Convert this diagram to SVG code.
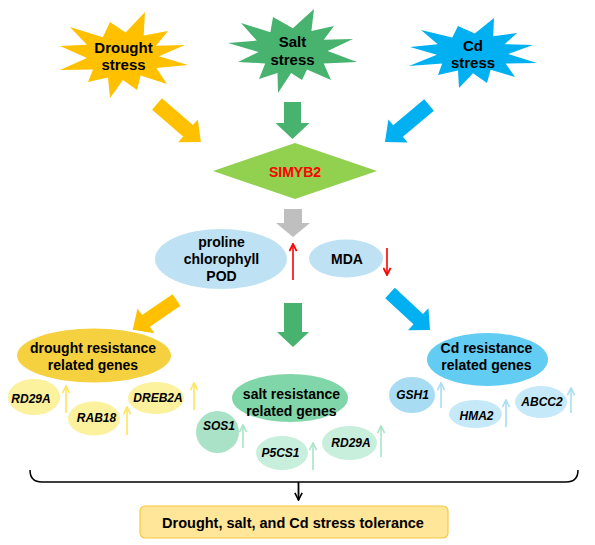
<svg xmlns="http://www.w3.org/2000/svg" width="595" height="545" viewBox="0 0 595 545">
<defs>
<style>
text{font-family:"Liberation Sans",Arial,sans-serif;font-weight:bold;text-anchor:middle;fill:#000}
.t{font-size:14px}
.s{font-size:15px}
.g{font-size:12px;font-style:italic}
.thin{fill:none;stroke-width:1.6}
</style>
<marker id="mr" viewBox="0 0 10 10" refX="9" refY="5" markerWidth="9" markerHeight="9" markerUnits="userSpaceOnUse" orient="auto"><path d="M1,1 L9,5 L1,9" fill="none" stroke="#FF0000" stroke-width="2"/></marker>
<marker id="my" viewBox="0 0 10 10" refX="9" refY="5" markerWidth="9" markerHeight="9" markerUnits="userSpaceOnUse" orient="auto"><path d="M1,1 L9,5 L1,9" fill="none" stroke="#FFE45C" stroke-width="1.8"/></marker>
<marker id="mg" viewBox="0 0 10 10" refX="9" refY="5" markerWidth="9" markerHeight="9" markerUnits="userSpaceOnUse" orient="auto"><path d="M1,1 L9,5 L1,9" fill="none" stroke="#A8E4C6" stroke-width="1.8"/></marker>
<marker id="mb" viewBox="0 0 10 10" refX="9" refY="5" markerWidth="9" markerHeight="9" markerUnits="userSpaceOnUse" orient="auto"><path d="M1,1 L9,5 L1,9" fill="none" stroke="#A9DCF2" stroke-width="1.8"/></marker>
<marker id="mk" viewBox="0 0 10 10" refX="9" refY="5" markerWidth="9" markerHeight="9" markerUnits="userSpaceOnUse" orient="auto"><path d="M1,1 L9,5 L1,9" fill="none" stroke="#000" stroke-width="1.8"/></marker>
</defs>

<g id="drought-stress">
<polygon fill="#FFC000" points="145,12 143.7,35.5 168,31 156,45.7 185,45 159,56.2 188,65 156.4,68.1 167,84 140.6,75.6 137,90 123,80 110,98 108,77.4 88,82 93,69.4 60,70 86.9,58 60,46 86.9,44.8 70,27 102.8,37.3 110,22 125.6,32.5"/>
<text class="s" x="123.5" y="53">Drought</text>
<text class="s" x="123.5" y="70">stress</text>
</g>

<g id="salt-stress">
<polygon fill="#48B26F" points="314,9 311.4,30.9 334,26 323.7,39.7 353,39 327.6,51.1 357,62 323.7,63.4 331,80 307,69.6 302,80 291.1,73.1 278,93 277.5,73.1 259,79 265.2,63.4 238,62 258.6,52 228,43 256.8,40.6 241,23 270.4,32.3 273,17 292.9,28.2"/>
<text class="s" x="292.5" y="47">Salt</text>
<text class="s" x="292.5" y="65">stress</text>
</g>

<g id="cd-stress">
<polygon fill="#00B0F0" points="494,18 493.2,36.3 517,33 504.7,44.2 533,45 508.2,53.9 537,63 505.6,63.6 515,77 490.6,69.7 487,83 473,73.2 459,88 458,70.6 438,75 442.2,63.6 409,66 436.9,54.8 410,47 437.8,44.2 421,30 452.3,37.6 458,26 474.8,33.6"/>
<text class="s" x="473" y="51">Cd</text>
<text class="s" x="473" y="68">stress</text>
</g>

<g id="simyb2">
<polygon fill="#92D050" points="295,143 377,171 295,199 213,171"/>
<text class="t" x="295" y="177" style="fill:#FF0000">SIMYB2</text>
</g>

<g id="physiology">
<ellipse cx="221" cy="259" rx="66" ry="30" fill="#BEE2F4"/>
<text class="t" x="221.5" y="247">proline</text>
<text class="t" x="221.5" y="264">chlorophyll</text>
<text class="t" x="221.5" y="281">POD</text>
</g>

<g id="mda">
<ellipse cx="346" cy="258.5" rx="37" ry="19" fill="#BEE2F4"/>
<text class="t" x="347" y="264">MDA</text>
</g>

<g id="drought-genes">
<ellipse cx="94" cy="355.5" rx="77" ry="27" fill="#F5D03F"/>
<text class="t" x="93" y="353">drought resistance</text>
<text class="t" x="93" y="370">related genes</text>
</g>
<g id="rd29a-d"><ellipse cx="34" cy="397" rx="26" ry="18" fill="#FCF19D"/><text class="g" x="31" y="403">RD29A</text></g>
<g id="rab18"><ellipse cx="94" cy="418.5" rx="26" ry="17" fill="#FCF19D"/><text class="g" x="96.5" y="422">RAB18</text></g>
<g id="dreb2a"><ellipse cx="156" cy="398" rx="28" ry="16" fill="#FCF19D"/><text class="g" x="158" y="402">DREB2A</text></g>

<g id="salt-genes">
<ellipse cx="290" cy="398" rx="58" ry="24" fill="#80D6A8"/>
<text class="t" x="291.5" y="399">salt resistance</text>
<text class="t" x="291.5" y="416">related genes</text>
</g>
<g id="sos1"><ellipse cx="217.5" cy="432" rx="21.5" ry="21" fill="#A9E2C6"/><text class="g" x="219" y="430">SOS1</text></g>
<g id="p5cs1"><ellipse cx="282" cy="453" rx="26" ry="17" fill="#C8EEDC"/><text class="g" x="280.5" y="457">P5CS1</text></g>
<g id="rd29a-s"><ellipse cx="349.5" cy="443" rx="27.5" ry="17" fill="#C8EEDC"/><text class="g" x="351" y="447">RD29A</text></g>

<g id="cd-genes">
<ellipse cx="487.5" cy="359.5" rx="60.5" ry="26.5" fill="#62CCF3"/>
<text class="t" x="486.5" y="353">Cd resistance</text>
<text class="t" x="486.5" y="370">related genes</text>
</g>
<g id="gsh1"><ellipse cx="412" cy="395" rx="23" ry="18" fill="#A8DCF3"/><text class="g" x="412.5" y="399">GSH1</text></g>
<g id="hma2"><ellipse cx="475.5" cy="414" rx="26.5" ry="14" fill="#C5E9F8"/><text class="g" x="476.5" y="420">HMA2</text></g>
<g id="abcc2"><ellipse cx="541" cy="402" rx="26" ry="16" fill="#C5E9F8"/><text class="g" x="542" y="406">ABCC2</text></g>

<g id="tolerance">
<rect x="140" y="506" width="308" height="32" rx="5" fill="#FFE699" stroke="#F5C842" stroke-width="1.2"/>
<text x="293" y="528" style="font-size:14.5px">Drought, salt, and Cd stress tolerance</text>
</g>

<g id="connectors">
<path transform="translate(157,104) rotate(40.8)" fill="#FFC000" d="M0,-7.5 L41,-7.5 L41,-15 L58,0 L41,15 L41,7.5 L0,7.5 Z"/>
<path transform="translate(292.5,102) rotate(90)" fill="#48B26F" d="M0,-8.5 L21,-8.5 L21,-17 L37,0 L21,17 L21,8.5 L0,8.5 Z"/>
<path transform="translate(429,105) rotate(139.9)" fill="#00B0F0" d="M0,-7.5 L40.5,-7.5 L40.5,-15 L57.5,0 L40.5,15 L40.5,7.5 L0,7.5 Z"/>
<path transform="translate(293,209) rotate(90)" fill="#BFBFBF" d="M0,-9 L14,-9 L14,-17 L28,0 L14,17 L14,9 L0,9 Z"/>
<path transform="translate(176.5,300) rotate(145.7)" fill="#FFC000" d="M0,-7 L37,-7 L37,-15 L53,0 L37,15 L37,7 L0,7 Z"/>
<path transform="translate(293,303) rotate(90)" fill="#48B26F" d="M0,-9 L29,-9 L29,-16 L44,0 L29,16 L29,9 L0,9 Z"/>
<path transform="translate(390,293) rotate(42.8)" fill="#00B0F0" d="M0,-7 L38.5,-7 L38.5,-15 L54.5,0 L38.5,15 L38.5,7 L0,7 Z"/>
<line class="thin" x1="293" y1="280" x2="293" y2="244" stroke="#FF0000" stroke-width="2" marker-end="url(#mr)"/>
<line class="thin" x1="387" y1="248" x2="387" y2="275" stroke="#FF0000" stroke-width="2" marker-end="url(#mr)"/>
<line class="thin" x1="66" y1="413" x2="66" y2="386" stroke="#FFE45C" marker-end="url(#my)"/>
<line class="thin" x1="127" y1="435" x2="127" y2="407" stroke="#FFE45C" marker-end="url(#my)"/>
<line class="thin" x1="194" y1="410" x2="194" y2="383" stroke="#FFE45C" marker-end="url(#my)"/>
<line class="thin" x1="243" y1="448" x2="243" y2="425" stroke="#A8E4C6" marker-end="url(#mg)"/>
<line class="thin" x1="313" y1="470" x2="313" y2="443" stroke="#A8E4C6" marker-end="url(#mg)"/>
<line class="thin" x1="381" y1="457" x2="381" y2="426" stroke="#A8E4C6" marker-end="url(#mg)"/>
<line class="thin" x1="441" y1="408" x2="441" y2="383" stroke="#A9DCF2" marker-end="url(#mb)"/>
<line class="thin" x1="506" y1="427" x2="506" y2="400" stroke="#A9DCF2" marker-end="url(#mb)"/>
<line class="thin" x1="571" y1="413" x2="571" y2="388" stroke="#A9DCF2" marker-end="url(#mb)"/>
<path d="M30,470 Q30,482 42,482 L566,482 Q578,482 578,470" fill="none" stroke="#000" stroke-width="1.5"/>
<line x1="298.5" y1="482" x2="298.5" y2="500" stroke="#000" stroke-width="1.8" marker-end="url(#mk)"/>
</g>
</svg>
